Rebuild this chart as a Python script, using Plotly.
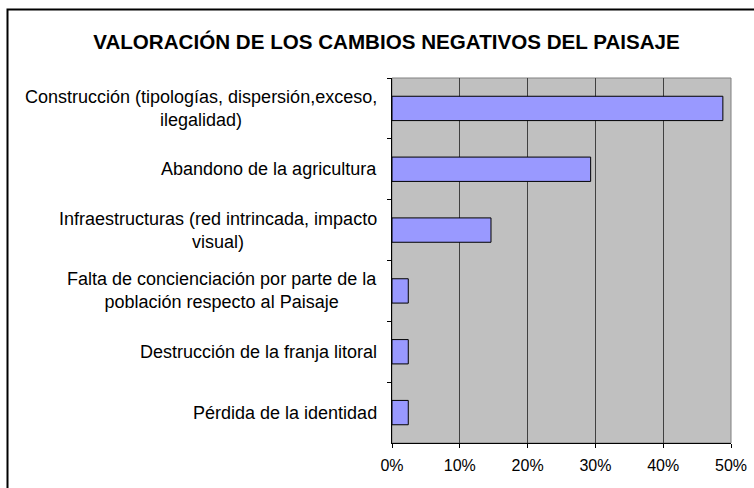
import plotly.graph_objects as go

# datos
categorias = [
    "Construcción (tipologías, dispersión,exceso,<br>ilegalidad)",
    "Abandono de la agricultura",
    "Infraestructuras (red intrincada, impacto<br>visual)",
    "Falta de concienciación por parte de la<br>población respecto al Paisaje",
    "Destrucción de la franja litoral",
    "Pérdida de la identidad",
]
porcentajes = [48.8, 29.3, 14.6, 2.4, 2.4, 2.4]
ticks_x = [0, 10, 20, 30, 40, 50]
ticks_x_txt = ["0%", "10%", "20%", "30%", "40%", "50%"]

W, H = 754, 488
L, R, T, B = 392, 23, 78, 45
pw, ph = W - L - R, H - T - B

fig = go.Figure()
fig.add_trace(go.Bar(
    y=categorias, x=porcentajes, orientation="h",
    marker=dict(color="#9999FF", line=dict(color="black", width=1)),
    hoverinfo="x+y",
))

# etiquetas del eje y, centradas como en Excel
for c in categorias:
    fig.add_annotation(
        x=-13 / pw, xref="paper", y=c, yref="y",
        text=c, showarrow=False, xanchor="right", align="center",
        font=dict(family="Arial, Liberation Sans", size=18, color="black"),
    )

# borde del gráfico
fig.add_shape(type="rect", xref="paper", yref="paper",
              x0=(7.5 - L) / pw, x1=(W + 10 - L) / pw,
              y0=(T + ph - (H + 10)) / ph, y1=(T + ph - 9.5) / ph,
              line=dict(color="black", width=2), layer="below")
# borde del área de trazado
fig.add_shape(type="rect", xref="paper", yref="paper", x0=0, x1=1, y0=0, y1=1,
              line=dict(color="#808080", width=1), layer="below")

fig.update_xaxes(
    range=[0, 50], tickvals=ticks_x, ticktext=ticks_x_txt,
    showgrid=True, gridcolor="#404040", gridwidth=1,
    showline=True, linecolor="black", linewidth=1,
    ticks="outside", ticklen=4, tickcolor="black", ticklabelstandoff=4,
    tickfont=dict(family="Arial, Liberation Sans", size=16, color="black"),
    zeroline=False, fixedrange=True, automargin=False,
)
fig.update_yaxes(
    autorange="reversed", showticklabels=False,
    showline=True, linecolor="black", linewidth=1,
    ticks="outside", ticklen=4, tickcolor="black", tickson="boundaries",
    showgrid=False, fixedrange=True, automargin=False,
)

fig.update_layout(
    width=W, height=H,
    margin=dict(l=L, r=R, t=T, b=B, autoexpand=False),
    title=dict(text="<b>VALORACIÓN DE LOS CAMBIOS NEGATIVOS DEL PAISAJE</b>",
               x=(92 + 681) / 2 / W, xanchor="center", y=1 - 42 / H, yanchor="middle",
               font=dict(family="Arial, Liberation Sans", size=20.6, color="black")),
    plot_bgcolor="#C0C0C0", paper_bgcolor="white",
    bargap=0.6, showlegend=False,
)

fig.write_html("out.html", config={"displayModeBar": False},
               post_script="document.body.style.margin='0';")
